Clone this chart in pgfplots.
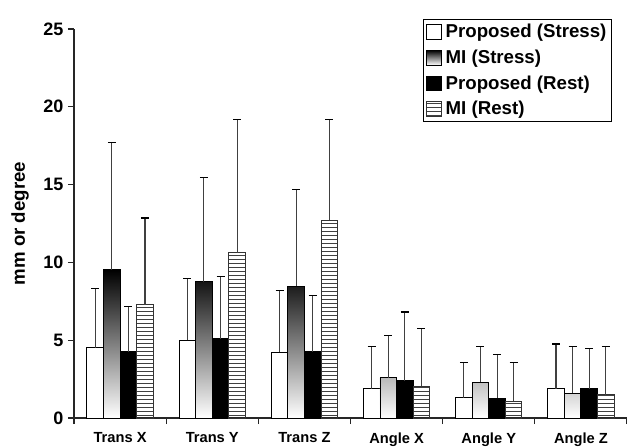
\documentclass[border=0pt]{standalone}
\usepackage{fontspec}
\setmainfont{Liberation Sans}
\usepackage{pgfplots}
\pgfplotsset{compat=1.18}
\usetikzlibrary{patterns.meta}
\begin{document}
\begin{tikzpicture}
\begin{axis}[
  scale only axis,
  width=414.75pt, height=291.75pt,
  ybar=0pt,
  xmin=-0.5, xmax=5.5, ymin=0, ymax=25,
  axis x line=bottom, axis y line=left,
  axis line style={-, line width=0.8pt, black!85},
  tick align=outside,
  major tick length=4.5pt,
  tick style={line width=0.8pt, black!85},
  xtick={-0.5,0.5,1.5,2.5,3.5,4.5,5.5},
  x tick label as interval,
  xticklabels={Trans X,Trans Y,Trans Z,Angle X,Angle Y,Angle Z},
  ytick={0,5,10,15,20,25},
  /pgf/number format/assume math mode=true,
  yticklabel style={font=\bfseries\fontsize{13.5}{16}\selectfont},
  xticklabel style={font=\bfseries\fontsize{11}{13}\selectfont, yshift=-3pt},
  ylabel={mm or degree},
  ylabel style={font=\bfseries\fontsize{14}{16}\selectfont, yshift=4pt},
  legend style={at={(axis description cs:1,1)}, anchor=north east, xshift=-11pt, yshift=7.5pt,
    draw=black, line width=0.8pt, font=\bfseries\fontsize{14}{16}\selectfont,
    inner xsep=2pt, inner ysep=1.5pt, row sep=3.6pt, cells={anchor=west}},
  legend cell align=left,
  legend image code/.code={\draw[#1, line width=0.6pt] (0pt,-5.5pt) rectangle (11pt,5.5pt);},
  bar width=0.18,
  error bars/error bar style={line width=0.8pt, black!75},
  error bars/error mark options={rotate=90, mark size=3pt, line width=0.9pt, black},
]
\addplot[bar shift=-0.27, draw=black, line width=0.7pt, fill=white,
  error bars/.cd, y dir=plus, y explicit] table[x=x, y=y, y error=e] {
x y e
0 4.52 3.81
1 4.99 3.99
2 4.24 3.94
3 1.89 2.69
4 1.31 2.25
5 1.89 2.87
};
\addlegendentry{\hspace{1pt}Proposed (Stress)}
\addplot[bar shift=-0.09, draw=black, line width=0.7pt, top color=black, bottom color=white,
  error bars/.cd, y dir=plus, y explicit] table[x=x, y=y, y error=e] {
x y e
0 9.53 8.19
1 8.76 6.71
2 8.46 6.24
3 2.59 2.72
4 2.31 2.27
5 1.59 2.99
};
\addlegendentry{\hspace{1pt}MI (Stress)}
\addplot[bar shift=0.09, draw=black, line width=0.7pt, fill=black,
  error bars/.cd, y dir=plus, y explicit] table[x=x, y=y, y error=e] {
x y e
0 4.26 2.92
1 5.08 4.02
2 4.26 3.60
3 2.40 4.41
4 1.27 2.80
5 1.87 2.61
};
\addlegendentry{\hspace{1pt}Proposed (Rest)}
\addplot[bar shift=0.27, draw=black!80, line width=0.7pt, fill=white,
  pattern={Lines[angle=0, distance=3pt, line width=0.7pt]}, pattern color=black!75,
  error bars/.cd, y dir=plus, y explicit] table[x=x, y=y, y error=e] {
x y e
0 7.28 5.57
1 10.62 8.58
2 12.72 6.48
3 2.03 3.71
4 1.07 2.49
5 1.50 3.08
};
\addlegendentry{\hspace{1pt}MI (Rest)}
\end{axis}
\pgfresetboundingbox
\path ([xshift=-55.5pt,yshift=-21.75pt]current axis.south west) rectangle ([yshift=21.75pt]current axis.north east);
\end{tikzpicture}
\end{document}
